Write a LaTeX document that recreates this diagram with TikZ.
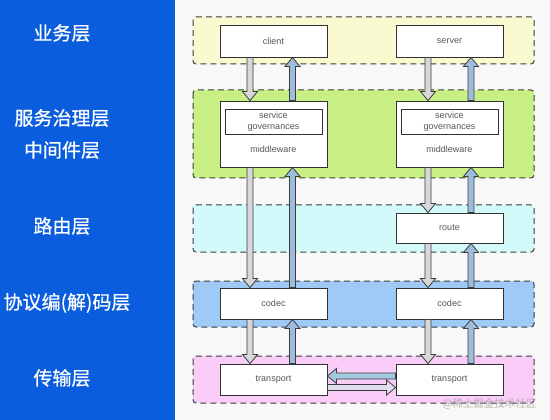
\documentclass[tikz,border=0pt]{standalone}
\usepackage{fontspec}
\setmainfont{Liberation Sans}
\newfontfamily\cjk{Noto Sans CJK SC}
\newfontfamily\cjkb{Noto Sans CJK SC}[FakeBold=0.6]
\usetikzlibrary{calc}
\definecolor{panel}{RGB}{10,94,222}
\definecolor{bgc}{RGB}{248,248,248}
\definecolor{edgec}{RGB}{60,60,60}
\definecolor{boxedge}{RGB}{50,50,50}
\definecolor{textc}{RGB}{85,85,85}
\definecolor{yellowl}{RGB}{250,250,208}
\definecolor{greenl}{RGB}{200,240,132}
\definecolor{cyanl}{RGB}{210,250,250}
\definecolor{bluel}{RGB}{160,202,246}
\definecolor{pinkl}{RGB}{250,204,248}
\definecolor{downf}{RGB}{215,215,220}
\definecolor{upf}{RGB}{158,188,220}
\definecolor{leftf}{RGB}{165,200,225}
\definecolor{rightf}{RGB}{225,222,242}
\tikzset{
  layer/.style={draw=edgec, dash pattern=on 6pt off 4pt, line width=1pt, rounded corners=3pt},
  box/.style={draw=boxedge, fill=white, line width=0.9pt, minimum width=107pt, inner sep=0pt, text=textc, font=\fontsize{9}{10}\selectfont},
  cjklabel/.style={text=white, font=\cjkb\fontsize{19}{21}\selectfont},
  arrowline/.style={draw=edgec, line width=0.8pt, line join=miter},
}
\newcommand\blkarrow[3]{%
  \path #2 coordinate (bas) #3 coordinate (bae);
  \path let \p1=(bas), \p2=(bae), \n1={veclen(\x2-\x1,\y2-\y1)}, \n2={atan2(\y2-\y1,\x2-\x1)} in \pgfextra{\xdef\balen{\n1}\xdef\baang{\n2}};
  \filldraw[arrowline, fill=#1, shift={(bas)}, rotate=\baang] (0,-3) -- ({\balen-9},-3) -- ({\balen-9},-7.5) -- (\balen,0) -- ({\balen-9},7.5) -- ({\balen-9},3) -- (0,3) -- cycle;
}
\begin{document}
\begin{tikzpicture}[x=1pt,y=-1pt]
\useasboundingbox (0,0) rectangle (550,420);
\fill[bgc] (0,0) rectangle (550,420);
\fill[panel] (0,0) rectangle (175,420);
% left labels
\node[cjklabel] (l1) at (62,33) {业务层};
\node[cjklabel] (l2a) at (62,118) {服务治理层};
\node[cjklabel] (l2b) at (62,150) {中间件层};
\node[cjklabel] (l3) at (62,226) {路由层};
\node[cjklabel] (l4) at (67,303) {协议编(解)码层};
\node[cjklabel] (l5) at (62,378) {传输层};
% layers
\draw[layer, fill=yellowl] (193,17) rectangle (534,64);
\draw[layer, fill=greenl] (193,90) rectangle (534,178);
\draw[layer, fill=cyanl] (193,205) rectangle (534,252);
\draw[layer, fill=bluel] (193,281) rectangle (534,327);
\draw[layer, fill=pinkl] (193,356) rectangle (534,403);
% boxes
\node[box, minimum height=32pt] (client) at (273.5,41) {client};
\node[box, minimum height=32pt] (server) at (449.5,41) {server};
\node[box, minimum height=66pt] (mwL) at (273.5,134) {};
\node[box, minimum height=66pt] (mwR) at (449.5,134) {};
\node[box, minimum width=97pt, minimum height=25pt, align=center, font=\fontsize{9}{11}\selectfont] (sgL) at (273.5,121.5) {service\\governances};
\node[box, minimum width=97pt, minimum height=25pt, align=center, font=\fontsize{9}{11}\selectfont] (sgR) at (449.5,121.5) {service\\governances};
\node[text=textc, font=\fontsize{9}{10}\selectfont] (mwtL) at (273.5,149) {middleware};
\node[text=textc, font=\fontsize{9}{10}\selectfont] (mwtR) at (449.5,149) {middleware};
\node[box, minimum height=30pt] (route) at (449.5,228) {route};
\node[box, minimum height=31pt] (codecL) at (273.5,303.5) {codec};
\node[box, minimum height=31pt] (codecR) at (449.5,303.5) {codec};
\node[box, minimum height=31pt] (transL) at (273.5,379.5) {transport};
\node[box, minimum height=31pt] (transR) at (449.5,379.5) {transport};
% left column arrows
\blkarrow{downf}{($(client.south)+(-23.5,0)$)}{($(mwL.north)+(-23.5,0)$)}
\blkarrow{downf}{($(mwL.south)+(-23.5,0)$)}{($(codecL.north)+(-23.5,0)$)}
\blkarrow{downf}{($(codecL.south)+(-23.5,0)$)}{($(transL.north)+(-23.5,0)$)}
\blkarrow{upf}{($(transL.north)+(19,0)$)}{($(codecL.south)+(19,0)$)}
\blkarrow{upf}{($(codecL.north)+(19,0)$)}{($(mwL.south)+(19,0)$)}
\blkarrow{upf}{($(mwL.north)+(19,0)$)}{($(client.south)+(19,0)$)}
% right column arrows
\blkarrow{downf}{($(server.south)+(-21.5,0)$)}{($(mwR.north)+(-21.5,0)$)}
\blkarrow{downf}{($(mwR.south)+(-21.5,0)$)}{($(route.north)+(-21.5,0)$)}
\blkarrow{downf}{($(route.south)+(-21.5,0)$)}{($(codecR.north)+(-21.5,0)$)}
\blkarrow{downf}{($(codecR.south)+(-21.5,0)$)}{($(transR.north)+(-21.5,0)$)}
\blkarrow{upf}{($(transR.north)+(21.5,0)$)}{($(codecR.south)+(21.5,0)$)}
\blkarrow{upf}{($(codecR.north)+(21.5,0)$)}{($(route.south)+(21.5,0)$)}
\blkarrow{upf}{($(route.north)+(21.5,0)$)}{($(mwR.south)+(21.5,0)$)}
\blkarrow{upf}{($(mwR.north)+(21.5,0)$)}{($(server.south)+(21.5,0)$)}
% horizontal arrows
\blkarrow{leftf}{($(transR.west)+(0,-3.5)$)}{($(transL.east)+(0,-3.5)$)}
\blkarrow{rightf}{($(transL.east)+(0,8)$)}{($(transR.west)+(0,8)$)}
% watermark
\node[anchor=east, text=gray!75, opacity=0.8, font=\cjk\fontsize{10.5}{12}\selectfont] (wm) at (540,404) {@稀土掘金技术社区};
\end{tikzpicture}
\end{document}
